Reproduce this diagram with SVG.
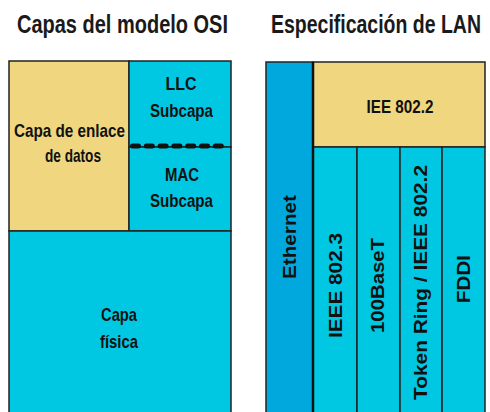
<svg xmlns="http://www.w3.org/2000/svg" width="490" height="412" viewBox="0 0 490 412">
<style>
  text { font-family: "Liberation Sans", Arial, sans-serif; font-weight: bold; fill: #111; text-anchor: middle; }
  .title { font-size: 26px; fill: #1a1a1a; }
  .lbl { font-size: 18.5px; }
  .rot { font-size: 18px; }
  .yel { fill: #F0D67E; stroke: #222; stroke-width: 1.5; }
  .cyan { fill: #00C8E2; stroke: #222; stroke-width: 1.5; }
  .blue { fill: #00A8DE; stroke: #222; stroke-width: 1.5; }
</style>
<rect width="490" height="412" fill="#ffffff"/>

<g id="titles">
  <text class="title" x="122.5" y="33" textLength="211" lengthAdjust="spacingAndGlyphs">Capas del modelo OSI</text>
  <text class="title" x="376" y="33" textLength="210" lengthAdjust="spacingAndGlyphs">Especificación de LAN</text>
</g>

<!-- OSI model -->
<g id="capa-enlace">
  <rect class="yel" x="9" y="61" width="120" height="170"/>
  <text class="lbl" x="69.5" y="137" textLength="111" lengthAdjust="spacingAndGlyphs">Capa de enlace</text>
  <text class="lbl" x="73" y="162" textLength="56" lengthAdjust="spacingAndGlyphs">de datos</text>
</g>
<g id="llc">
  <rect class="cyan" x="129" y="61" width="102" height="86"/>
  <text class="lbl" x="181" y="90" textLength="31" lengthAdjust="spacingAndGlyphs">LLC</text>
  <text class="lbl" x="181.5" y="117" textLength="63" lengthAdjust="spacingAndGlyphs">Subcapa</text>
</g>
<g id="mac">
  <rect class="cyan" x="129" y="147" width="102" height="84"/>
  <text class="lbl" x="182" y="181" textLength="34" lengthAdjust="spacingAndGlyphs">MAC</text>
  <text class="lbl" x="181.5" y="207" textLength="63" lengthAdjust="spacingAndGlyphs">Subcapa</text>
</g>
<g id="capa-fisica">
  <rect class="cyan" x="9" y="231" width="222" height="186"/>
  <text class="lbl" x="119" y="321" textLength="36" lengthAdjust="spacingAndGlyphs">Capa</text>
  <text class="lbl" x="119" y="348" textLength="38" lengthAdjust="spacingAndGlyphs">física</text>
</g>

<!-- LAN specification -->
<g id="ethernet">
  <rect class="blue" x="266" y="62" width="47" height="355"/>
  <text class="rot" transform="translate(296,237) rotate(-90)" x="0" y="0" textLength="84" lengthAdjust="spacingAndGlyphs">Ethernet</text>
</g>
<g id="iee8022">
  <rect class="yel" x="313" y="62" width="172" height="85"/>
  <text class="lbl" x="400" y="113" textLength="67" lengthAdjust="spacingAndGlyphs">IEE 802.2</text>
</g>
<g id="ieee8023">
  <rect class="cyan" x="313" y="147" width="44" height="270"/>
  <text class="rot" transform="translate(342,285.5) rotate(-90)" x="0" y="0" textLength="105" lengthAdjust="spacingAndGlyphs">IEEE 802.3</text>
</g>
<g id="100baset">
  <rect class="cyan" x="357" y="147" width="43" height="270"/>
  <text class="rot" transform="translate(384,285.5) rotate(-90)" x="0" y="0" textLength="95" lengthAdjust="spacingAndGlyphs">100BaseT</text>
</g>
<g id="tokenring">
  <rect class="cyan" x="400" y="147" width="42" height="270"/>
  <text class="rot" transform="translate(427,282.5) rotate(-90)" x="0" y="0" textLength="235" lengthAdjust="spacingAndGlyphs">Token Ring / IEEE 802.2</text>
</g>
<g id="fddi">
  <rect class="cyan" x="442" y="147" width="43" height="270"/>
  <text class="rot" transform="translate(470,279) rotate(-90)" x="0" y="0" textLength="48" lengthAdjust="spacingAndGlyphs">FDDI</text>
</g>

<g id="connectors">
  <line x1="132.5" y1="146" x2="229" y2="146" stroke="#111" stroke-width="5" stroke-dasharray="6 7.8" stroke-linecap="round"/>
  <line x1="313" y1="62" x2="313" y2="417" stroke="#111" stroke-width="2.5"/>
</g>
</svg>
